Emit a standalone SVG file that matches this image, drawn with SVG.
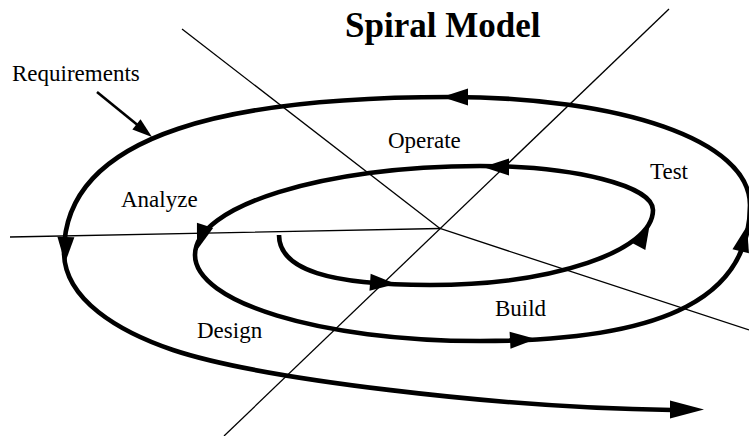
<svg xmlns="http://www.w3.org/2000/svg" xmlns:xlink="http://www.w3.org/1999/xlink" width="749" height="436" viewBox="0 0 749 436">
  <style>
    .axis { fill: none; stroke: #000; stroke-width: 1.3; }
    .spiral { fill: none; stroke: #000; stroke-width: 4.6; stroke-linecap: butt; stroke-linejoin: round; }
    .head { fill: #000; }
    .label { font-family: "Liberation Serif", "Times New Roman", serif; font-size: 23px; fill: #000; }
    .title { font-family: "Liberation Serif", "Times New Roman", serif; font-size: 35px; font-weight: bold; fill: #000; }
  </style>
  <defs>
    <!-- arrowhead with its tip at the origin, pointing along +x -->
    <polygon id="ah" points="0,0 -26,-8.5 -26,8.5"/>
    <polygon id="ah-small" points="0,0 -20,-6.5 -20,6.5"/>
  </defs>

  <rect width="749" height="436" fill="#fff"/>

  <!-- quadrant axes -->
  <g id="axes">
    <polyline class="axis" points="10,237 440,228.5 749,330"/>
    <line class="axis" x1="182" y1="29" x2="440" y2="228.5"/>
    <line class="axis" x1="669" y1="9" x2="224" y2="436"/>
  </g>

  <!-- spiral and its direction arrows -->
  <g id="connectors">
    <path id="spiral-path" class="spiral" d="M279,235
      C279,270 330,285 430,285
      C553,285 653,251 653,210
      C653,186 575,166 480,166
      C323,166 195,206 195,255
      C195,302 319,341 480,341
      C670,341 750,295 750,205
      C750,140 620,97 450,97
      C240,97 64,130 64,252
      C64,300 120,332 173,350
      C260,379 500,408 672,410"/>
    <g class="head">
      <use xlink:href="#ah" transform="translate(396,284) rotate(4)"/>
      <use xlink:href="#ah" transform="translate(650,223) rotate(-62)"/>
      <use xlink:href="#ah" transform="translate(483,167) rotate(180)"/>
      <use xlink:href="#ah" transform="translate(197,250) rotate(108)"/>
      <use xlink:href="#ah" transform="translate(536,339) rotate(-3)"/>
      <use xlink:href="#ah" transform="translate(747,226) rotate(-76)"/>
      <use xlink:href="#ah" transform="translate(442,97) rotate(180)"/>
      <use xlink:href="#ah" transform="translate(65,263) rotate(92)"/>
      <polygon points="670,400.5 704,409.5 670,418.5"/>
    </g>
    <!-- pointer from the Requirements label onto the spiral -->
    <line class="axis" x1="97" y1="92" x2="140" y2="127" style="stroke-width:2.6"/>
    <use class="head" xlink:href="#ah-small" transform="translate(152,137) rotate(39)"/>
  </g>

  <g id="title"><text class="title" x="345" y="37">Spiral Model</text></g>
  <g id="requirements"><text class="label" x="12" y="81">Requirements</text></g>
  <g id="analyze"><text class="label" x="121" y="207">Analyze</text></g>
  <g id="operate"><text class="label" x="388" y="148">Operate</text></g>
  <g id="test"><text class="label" x="650" y="179">Test</text></g>
  <g id="build"><text class="label" x="495" y="316">Build</text></g>
  <g id="design"><text class="label" x="197" y="338">Design</text></g>
</svg>
